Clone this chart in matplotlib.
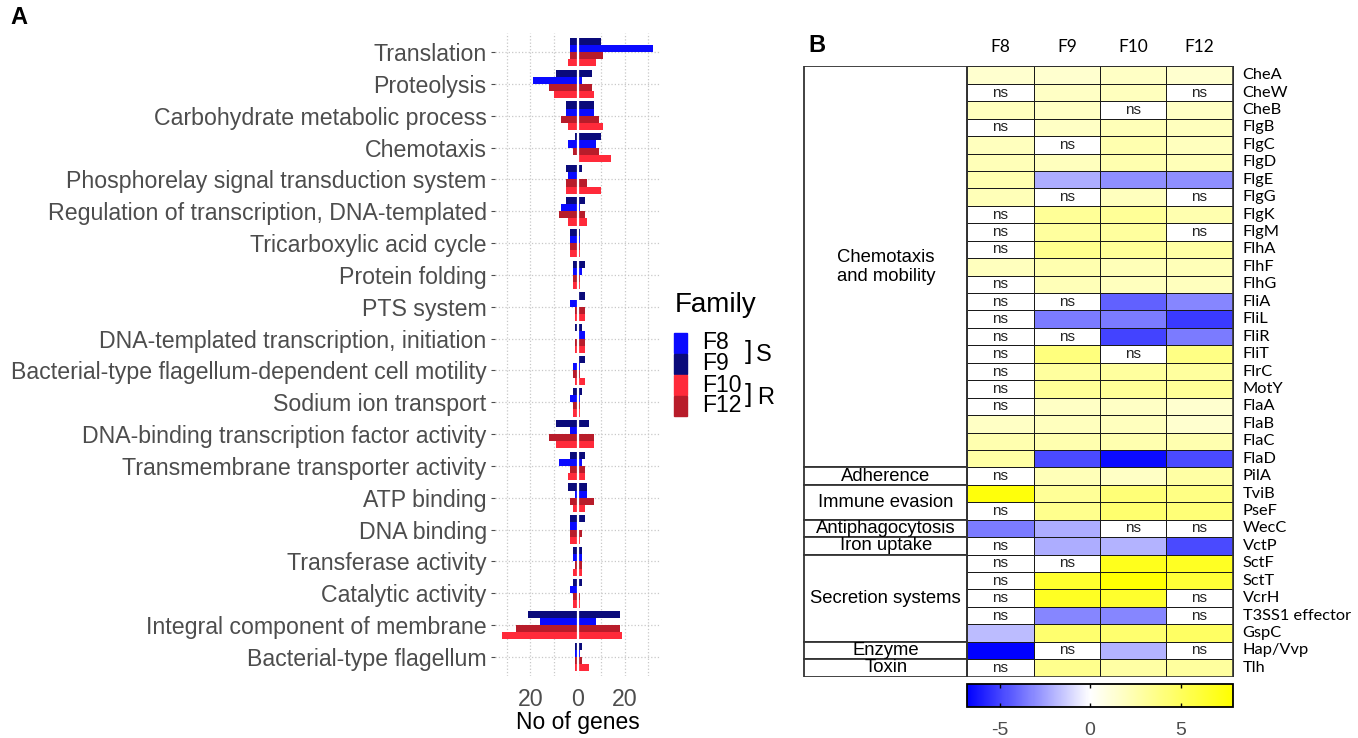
import numpy as np
import matplotlib
matplotlib.use("Agg")
import matplotlib.pyplot as plt
from matplotlib.colors import LinearSegmentedColormap, Normalize
from matplotlib.patches import Rectangle

plt.rcParams["font.family"] = ["Liberation Sans", "DejaVu Sans"]
plt.rcParams["axes.unicode_minus"] = False

W, H = 1358, 738

# ---------------- panel A data ----------------
categories = [
    "Translation",
    "Proteolysis",
    "Carbohydrate metabolic process",
    "Chemotaxis",
    "Phosphorelay signal transduction system",
    "Regulation of transcription, DNA-templated",
    "Tricarboxylic acid cycle",
    "Protein folding",
    "PTS system",
    "DNA-templated transcription, initiation",
    "Bacterial-type flagellum-dependent cell motility",
    "Sodium ion transport",
    "DNA-binding transcription factor activity",
    "Transmembrane transporter activity",
    "ATP binding",
    "DNA binding",
    "Transferase activity",
    "Catalytic activity",
    "Integral component of membrane",
    "Bacterial-type flagellum",
]

up_f8 = [32, 2, 7, 8, 0, 1, 1, 2, 0, 3, 1, 1, 0, 2, 4, 0, 2, 0, 8, 1]
down_f8 = [3, 19, 5, 4, 4, 7, 3, 2, 3, 0, 2, 3, 3, 8, 1, 3, 2, 3, 16, 1]
up_f9 = [10, 6, 7, 10, 2, 3, 1, 3, 3, 2, 3, 2, 5, 3, 4, 3, 2, 2, 18, 2]
down_f9 = [3, 9, 5, 1, 5, 5, 3, 2, 0, 1, 0, 2, 9, 3, 4, 3, 2, 2, 21, 1]
up_f10 = [8, 7, 11, 14, 10, 4, 1, 1, 3, 3, 3, 1, 7, 3, 3, 1, 2, 1, 19, 5]
down_f10 = [4, 10, 4, 0, 5, 4, 3, 2, 1, 1, 1, 2, 9, 4, 2, 3, 2, 2, 32, 1]
up_f12 = [11, 6, 9, 9, 4, 3, 1, 1, 3, 3, 1, 1, 7, 3, 7, 2, 2, 1, 18, 2]
down_f12 = [3, 12, 7, 2, 5, 8, 3, 2, 1, 1, 2, 2, 12, 3, 3, 3, 1, 2, 26, 1]

families = ["F8", "F9", "F10", "F12"]
fam_colors = {"F8": "#0a0aff", "F9": "#0a0a7a", "F10": "#ff2a3a", "F12": "#b81c2a"}

# ---------------- panel B data ----------------
genes = ["CheA", "CheW", "CheB", "FlgB", "FlgC", "FlgD", "FlgE", "FlgG", "FlgK",
         "FlgM", "FlhA", "FlhF", "FlhG", "FliA", "FliL", "FliR", "FliT", "FlrC",
         "MotY", "FlaA", "FlaB", "FlaC", "FlaD", "PilA", "TviB", "PseF", "WecC",
         "VctP", "SctF", "SctT", "VcrH", "T3SS1 effector", "GspC", "Hap/Vvp", "Tlh"]
heat_cols = ["F8", "F9", "F10", "F12"]
nan = np.nan
fc_f8 = [1.5, nan, 2.0, nan, 2.0, 2.2, 2.5, 2.2, nan, nan, nan, 2.0, nan, nan, nan,
         nan, nan, nan, nan, nan, 1.8, 2.5, 2.8, nan, 7.5, nan, -3.5, nan, nan, nan,
         nan, nan, -1.8, -6.8, nan]
fc_f9 = [1.5, 1.8, 1.8, 1.8, nan, 2.0, -2.2, nan, 3.2, 3.0, 3.5, 2.5, 2.2, nan, -3.5,
         nan, 4.0, 3.0, 3.2, 1.8, 2.0, 2.5, -4.8, 2.2, 3.2, 3.5, -2.2, -2.2, nan, 6.5,
         6.8, -3.2, 4.5, nan, 3.5]
fc_f10 = [1.8, 2.0, nan, 2.2, 2.5, 2.5, -3.0, 2.0, 3.2, 3.0, 3.2, 2.2, 2.0, -4.2, -3.5,
          -5.0, nan, 3.0, 3.2, 1.8, 2.0, 2.5, -6.5, 1.8, 4.2, 4.5, nan, -2.0, 7.0, 7.8,
          6.5, -3.2, 4.5, -2.0, 2.8]
fc_f12 = [1.5, nan, 1.8, 2.0, 2.0, 2.2, -3.0, nan, 2.5, nan, 2.8, 2.2, 2.0, -3.2, -5.2,
          -3.5, 3.8, 3.0, 3.2, 1.5, 1.5, 2.5, -4.8, 2.8, 3.8, 4.2, nan, -4.8, 6.8, 6.2,
          nan, nan, 4.8, nan, 3.0]
group_names = ["Chemotaxis\nand mobility", "Adherence", "Immune evasion",
               "Antiphagocytosis", "Iron uptake", "Secretion systems", "Enzyme", "Toxin"]
group_sizes = [23, 1, 2, 1, 1, 5, 1, 1]
vmin, vmax = -6.8, 7.9

fig = plt.figure(figsize=(W / 100, H / 100), dpi=100)

# ================= panel A =================
ax = fig.add_axes([495 / W, (H - 676) / H, 165 / W, 643 / H])
y = np.arange(len(categories))
bar_h = 0.225
offsets = {"F9": -1.5 * bar_h, "F8": -0.5 * bar_h, "F12": 0.5 * bar_h, "F10": 1.5 * bar_h}
series = {"F8": (up_f8, down_f8), "F9": (up_f9, down_f9),
          "F10": (up_f10, down_f10), "F12": (up_f12, down_f12)}
for fam in families:
    up, down = series[fam]
    ax.barh(y + offsets[fam], up, height=bar_h, color=fam_colors[fam], lw=0, zorder=2)
    ax.barh(y + offsets[fam], -np.array(down), height=bar_h, color=fam_colors[fam],
            lw=0, zorder=2)
ax.axvline(0, color="white", lw=1.6, zorder=3)

ax.set_xlim(-35, 35)
ax.set_ylim(len(categories) - 0.4, -0.6)
ax.set_yticks(y)
ax.set_yticklabels(categories, fontsize=16.7, color="#4d4d4d")
ax.set_xticks([-20, 0, 20])
ax.set_xticklabels(["20", "0", "20"], fontsize=16.7, color="#4d4d4d")
ax.set_xticks([-30, -10, 10, 30], minor=True)
ax.tick_params(axis="y", length=3, color="#4d4d4d", pad=3)
ax.tick_params(axis="x", which="both", length=0, pad=9)
ax.grid(which="both", linestyle=":", color="#c8c8c8", lw=0.9, zorder=0)
ax.set_axisbelow(True)
for s in ax.spines.values():
    s.set_visible(False)
ax.set_xlabel("No of genes", fontsize=16.5, labelpad=0)

# legend drawn by hand (keys plus S / R brackets)
fig.text(675 / W, 1 - 305 / H, "Family", fontsize=20, va="center", ha="left")
key_top = 332
for i, fam in enumerate(families):
    fig.patches.append(Rectangle((674 / W, 1 - (key_top + 21 * (i + 1)) / H), 13 / W, 20 / H,
                                 transform=fig.transFigure, color=fam_colors[fam]))
    fig.text(702 / W, 1 - (key_top + 11 + 21 * i) / H, fam, fontsize=16.5,
             va="center", ha="left")
fig.text(745 / W, 1 - 352 / H, "]", fontsize=19, va="center", ha="left")
fig.text(756 / W, 1 - 355 / H, "S", fontsize=17, va="center", ha="left")
fig.text(745 / W, 1 - 395 / H, "]", fontsize=19, va="center", ha="left")
fig.text(757 / W, 1 - 398 / H, "R", fontsize=17, va="center", ha="left")

fig.text(10 / W, 1 - 18 / H, "A", fontsize=17, fontweight="bold", va="center")
fig.text(808 / W, 1 - 45 / H, "B", fontsize=17, fontweight="bold", va="center")

# ================= panel B =================
cmap = LinearSegmentedColormap.from_list(
    "bwy", [(0.0, "#0000ff"), (-vmin / (vmax - vmin), "#ffffff"), (1.0, "#ffff00")])
norm = Normalize(vmin=vmin, vmax=vmax)

n_rows = len(genes)
cell_w = (1234 - 967) / 4
left_px, right_px = 803, 1234
axh = fig.add_axes([left_px / W, (H - 677) / H, (right_px - left_px) / W, (677 - 66) / H])
grp_w = (967 - 803) / cell_w
data = np.array([fc_f8, fc_f9, fc_f10, fc_f12]).T
masked = np.ma.masked_invalid(data)
cmap.set_bad("white")
mesh = axh.pcolormesh(np.arange(5), np.arange(n_rows + 1), masked, cmap=cmap, norm=norm,
                      edgecolor="#1a1a1a", linewidth=0.6)
for r in range(n_rows):
    for c in range(4):
        if np.isnan(data[r, c]):
            axh.text(c + 0.5, r + 0.5, "ns", ha="center", va="center", fontsize=11,
                     color="#222222")
    axh.text(4.15, r + 0.5, genes[r], ha="left", va="center", fontsize=11.8,
             family=["Lato", "DejaVu Sans"], clip_on=False)
for c, name in enumerate(heat_cols):
    axh.text(c + 0.5, -1.1, name, ha="center", va="center", fontsize=12.5,
             family=["Lato", "DejaVu Sans"], clip_on=False)
start = 0
for name, size in zip(group_names, group_sizes):
    axh.add_patch(Rectangle((-grp_w, start), grp_w, size, facecolor="white",
                            edgecolor="#333333", lw=1.3))
    axh.text(-grp_w / 2, start + size / 2, name, ha="center", va="center",
             fontsize=13.3, linespacing=1.1)
    start += size
axh.add_patch(Rectangle((0, 0), 4, n_rows, fill=False, edgecolor="#333333", lw=1.2))
axh.set_xlim(-grp_w - 0.02, 4.02)
axh.set_ylim(n_rows + 0.02, -0.02)
axh.axis("off")

cax = fig.add_axes([967 / W, (H - 707) / H, (1233 - 967) / W, 23 / H])
cb = fig.colorbar(mesh, cax=cax, orientation="horizontal")
cb.outline.set_linewidth(1.3)
cb.set_ticks([-5, 0, 5])
cb.ax.tick_params(length=3, width=1, color="black", direction="in", bottom=True,
                  top=True, labelsize=14, labelcolor="#4d4d4d", pad=11)

fig.savefig("out.png", dpi=100, facecolor="white")
